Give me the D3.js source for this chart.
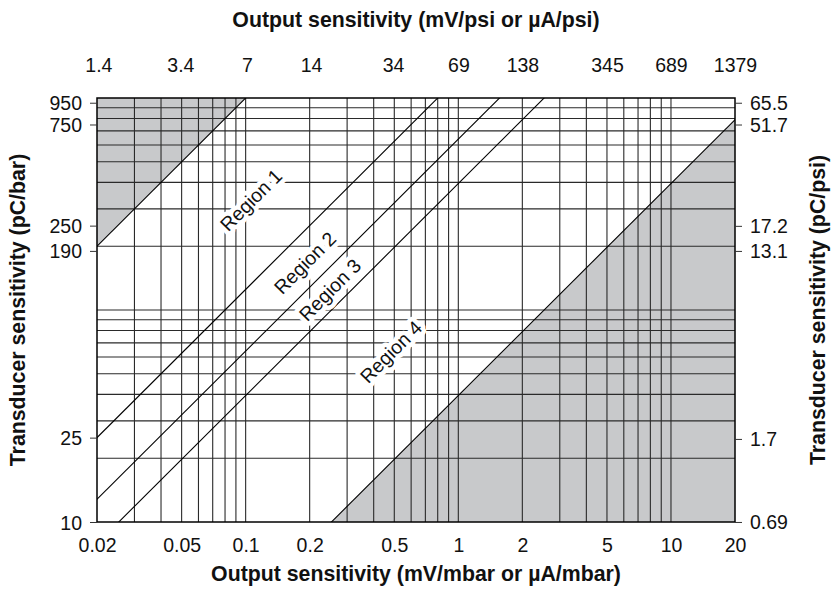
<!DOCTYPE html>
<html><head><meta charset="utf-8">
<script src="https://cdn.jsdelivr.net/npm/d3@7"></script>
<style>
body{margin:0;background:#fff}
text{font-family:"Liberation Sans",Arial,Helvetica,sans-serif;fill:#111}
</style>
</head><body>
<svg id="c" width="831" height="590"></svg>
<script>
// ---- data ----
const xDomain = [0.02, 20];          // mV/mbar
const yDomain = [10, 1000];         // pC/bar
const bottomTicks = [0.02, 0.05, 0.1, 0.2, 0.5, 1, 2, 5, 10, 20];
const topTicks = [1.4, 3.4, 7, 14, 34, 69, 138, 345, 689, 1379];
const leftTicks = [950, 750, 250, 190, 25, 10];
const rightTicks = [65.5, 51.7, 17.2, 13.1, 1.7, 0.69];
const xGrid = [0.03,0.04,0.05,0.06,0.07,0.08,0.09,0.1,0.2,0.3,0.4,0.5,0.6,0.7,0.8,0.9,1,2,3,4,5,6,7,8,9,10];
const yGrid = [20,30,40,50,60,70,80,90,100,200,300,400,500,600,700,800,900];
const boundaryRatios = [10000, 1250, 640, 395, 39.5]; // pC/bar per mV/mbar along each boundary line
const regionNames = ["Region 1", "Region 2", "Region 3", "Region 4"];
const regionLabelX = [0.106, 0.190, 0.249, 0.482];
const regionLabelY = [330, 166.7, 124.3, 63.4];
const mbarPerPsi = 68.95;   // 1 mV/mbar = 68.95 mV/psi
const barPerPsi = 14.5;     // 1 pC/psi = 14.5 pC/bar

// ---- layout ----
const L = 97, R = 735, T = 98, B = 522;
const svg = d3.select("#c");

const x = d3.scaleLog().domain(xDomain).range([L, R]);
const y = d3.scaleLog().domain(yDomain).range([B, T]);
const xTop = d3.scaleLog().domain(xDomain.map(d => d * mbarPerPsi)).range([L, R]);
const yRight = d3.scaleLog().domain(yDomain.map(d => d / barPerPsi)).range([B, T]);

svg.append("defs").append("clipPath").attr("id", "plot")
  .append("rect").attr("x", L).attr("y", T).attr("width", R - L).attr("height", B - T);

const plot = svg.append("g").attr("clip-path", "url(#plot)");
const shade = "#c8c9cb";

// shaded regions
const k1 = boundaryRatios[0], k5 = boundaryRatios[boundaryRatios.length - 1];
const x0 = xDomain[0], x1 = xDomain[1];
const poly = d3.line().x(d => x(d[0])).y(d => y(d[1]));
plot.append("path")
  .attr("d", poly([[x0, x0 * k1], [x1, x1 * k1], [x0, x1 * k1]]) + "Z")
  .attr("fill", shade);
plot.append("path")
  .attr("d", poly([[x0, x0 * k5], [x1, x1 * k5], [x1, x0 * k5]]) + "Z")
  .attr("fill", shade);

// grid
plot.append("g").selectAll("line").data(xGrid).join("line")
  .attr("x1", d => x(d)).attr("x2", d => x(d)).attr("y1", T).attr("y2", B)
  .attr("stroke", "#2a2a2a").attr("stroke-width", 1.1);
plot.append("g").selectAll("line").data(yGrid).join("line")
  .attr("y1", d => y(d)).attr("y2", d => y(d)).attr("x1", L).attr("x2", R)
  .attr("stroke", "#2a2a2a").attr("stroke-width", 1.1);

// boundary lines
plot.append("g").selectAll("path").data(boundaryRatios).join("path")
  .attr("d", k => poly([[x0 / 10, x0 / 10 * k], [x1 * 10, x1 * 10 * k]]))
  .attr("stroke", "#000").attr("stroke-width", 1.1).attr("fill", "none");

// region labels
svg.append("g").selectAll("text").data(regionNames).join("text")
  .attr("transform", (d, i) => `translate(${x(regionLabelX[i])},${y(regionLabelY[i])}) rotate(-45)`)
  .attr("text-anchor", "middle").attr("dy", "0.35em")
  .attr("font-size", 19.5)
  .attr("stroke", "#fff").attr("stroke-width", 9).attr("stroke-linejoin", "round")
  .attr("paint-order", "stroke")
  .text(d => d);

// border
svg.append("rect").attr("x", L).attr("y", T).attr("width", R - L).attr("height", B - T)
  .attr("fill", "none").attr("stroke", "#000").attr("stroke-width", 1.5);

// axes
const fs = 19.5;
const gB = svg.append("g").attr("transform", `translate(0,${B})`)
  .call(d3.axisBottom(x).tickValues(bottomTicks).tickFormat(d => String(d)).tickSize(0).tickPadding(16));
const gT = svg.append("g").attr("transform", `translate(0,${T})`)
  .call(d3.axisTop(xTop).tickValues(topTicks).tickFormat(d => String(d)).tickSize(0).tickPadding(26));
const gL = svg.append("g").attr("transform", `translate(${L},0)`)
  .call(d3.axisLeft(y).tickValues(leftTicks).tickFormat(d => String(d)).tickSize(7).tickPadding(8));
const gR = svg.append("g").attr("transform", `translate(${R},0)`)
  .call(d3.axisRight(yRight).tickValues(rightTicks).tickFormat(d => String(d)).tickSize(7).tickPadding(8));
[gB, gT, gL, gR].forEach(g => {
  g.select(".domain").remove();
  g.selectAll("text").attr("font-size", fs).attr("font-family", null).attr("fill", "#111");
  g.selectAll("line").attr("stroke", "#333");
});
gL.selectAll("text").attr("dy", "0.36em");
gR.selectAll("text").attr("dy", "0.36em");

// titles
const cx = (L + R) / 2, cy = (T + B) / 2;
const tfs = 21.3;
svg.append("text").attr("x", cx).attr("y", 27).attr("text-anchor", "middle")
  .attr("font-size", tfs).attr("font-weight", "bold").text("Output sensitivity (mV/psi or µA/psi)");
svg.append("text").attr("x", cx).attr("y", 581).attr("text-anchor", "middle")
  .attr("font-size", tfs).attr("font-weight", "bold").text("Output sensitivity (mV/mbar or µA/mbar)");
svg.append("text").attr("transform", `translate(25,${cy}) rotate(-90)`).attr("text-anchor", "middle")
  .attr("font-size", tfs).attr("font-weight", "bold").text("Transducer sensitivity (pC/bar)");
svg.append("text").attr("transform", `translate(825,${cy}) rotate(-90)`).attr("text-anchor", "middle")
  .attr("font-size", tfs).attr("font-weight", "bold").text("Transducer sensitivity (pC/psi)");
</script>
</body></html>
